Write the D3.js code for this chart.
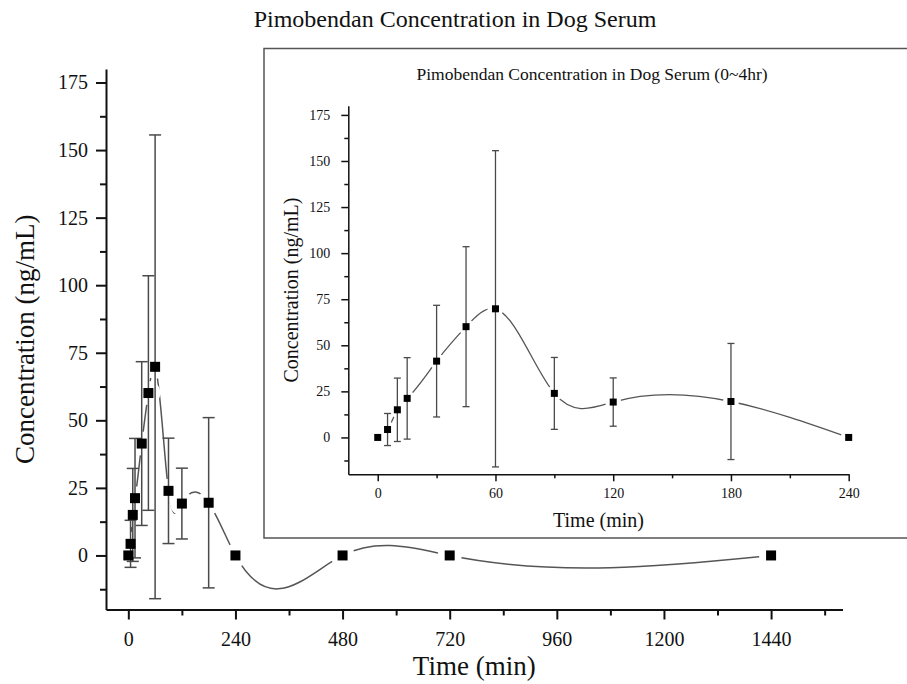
<!DOCTYPE html>
<html>
<head>
<meta charset="utf-8">
<script src="https://cdn.jsdelivr.net/npm/d3@7"></script>
<style>
  body { margin: 0; background: #fff; }
  text { font-family: 'Liberation Serif', 'Times New Roman', serif; fill: #111; }
</style>
</head>
<body>
<script>
const W = 907;
const H = 684;

// sampling times (min), mean concentration and SD (ng/mL)
const TIMES = [0, 5, 10, 15, 30, 45, 60, 90, 120, 180, 240, 480, 720, 1440];
const MEANS = [0, 4.3, 15.0, 21.2, 41.4, 60.1, 69.8, 23.9, 19.2, 19.5, 0, 0, 0, 0];
const SDS = [0, 8.7, 17.2, 22.1, 30.3, 43.4, 85.8, 19.5, 13.1, 31.5, 0, 0, 0, 0];

const MAIN_X_TICKS = [0, 240, 480, 720, 960, 1200, 1440];
const MAIN_X_MINOR = [120, 360, 600, 840, 1080, 1320, 1560];
const Y_TICKS = [0, 25, 50, 75, 100, 125, 150, 175];
const Y_MINOR = [-12.5, 12.5, 37.5, 62.5, 87.5, 112.5, 137.5, 162.5];
const INSET_X_TICKS = [0, 60, 120, 180, 240];
const INSET_X_MINOR = [30, 90, 150, 210];

const TITLE = 'Pimobendan Concentration in Dog Serum';
const INSET_TITLE = 'Pimobendan Concentration in Dog Serum (0~4hr)';

const points = TIMES.map((t, i) => ({ t: t, m: MEANS[i], sd: SDS[i] }));

// natural cubic spline y(x), drawn as exact bezier pieces
function NaturalX(context) { this._context = context; }
NaturalX.prototype = {
  areaStart() {}, areaEnd() {},
  lineStart() { this._x = []; this._y = []; },
  point(x, y) { this._x.push(+x); this._y.push(+y); },
  lineEnd() {
    const x = this._x, y = this._y, n = x.length;
    if (!n) return;
    this._context.moveTo(x[0], y[0]);
    if (n < 3) { if (n === 2) this._context.lineTo(x[1], y[1]); return; }
    const h = [];
    for (let i = 0; i < n - 1; i++) h.push(x[i + 1] - x[i]);
    // tridiagonal solve for second derivatives, M0 = Mn = 0
    const a = [], b = [], c = [], r = [];
    for (let i = 1; i < n - 1; i++) {
      a.push(h[i - 1]);
      b.push(2 * (h[i - 1] + h[i]));
      c.push(h[i]);
      r.push(6 * ((y[i + 1] - y[i]) / h[i] - (y[i] - y[i - 1]) / h[i - 1]));
    }
    const k = r.length;
    for (let i = 1; i < k; i++) {
      const w = a[i] / b[i - 1];
      b[i] -= w * c[i - 1];
      r[i] -= w * r[i - 1];
    }
    const inner = new Array(k);
    inner[k - 1] = r[k - 1] / b[k - 1];
    for (let i = k - 2; i >= 0; i--) inner[i] = (r[i] - c[i] * inner[i + 1]) / b[i];
    const M = [0, ...inner, 0];
    for (let i = 0; i < n - 1; i++) {
      const s = (y[i + 1] - y[i]) / h[i];
      const d0 = s - h[i] * (2 * M[i] + M[i + 1]) / 6;
      const d1 = s + h[i] * (M[i] + 2 * M[i + 1]) / 6;
      this._context.bezierCurveTo(
        x[i] + h[i] / 3, y[i] + d0 * h[i] / 3,
        x[i + 1] - h[i] / 3, y[i + 1] - d1 * h[i] / 3,
        x[i + 1], y[i + 1]);
    }
  }
};
const curveNaturalX = (context) => new NaturalX(context);

const svg = d3.select('body').append('svg')
  .attr('width', W)
  .attr('height', H);

const defs = svg.append('defs');

const drawPanel = (opt) => {
  const x = d3.scaleLinear().domain(opt.xDomain).range(opt.xRange);
  const y = d3.scaleLinear().domain([-20, 180]).range(opt.yRange);
  const data = points.filter((d) => d.t <= opt.xDomain[1]);
  const g = svg.append('g');

  // gaps in the curve around every symbol
  const mask = defs.append('mask')
    .attr('id', opt.id + '-gap')
    .attr('maskUnits', 'userSpaceOnUse')
    .attr('x', 0).attr('y', 0).attr('width', W).attr('height', H);
  mask.append('rect').attr('width', W).attr('height', H).attr('fill', '#fff');
  mask.selectAll('circle')
    .data(data)
    .join('circle')
    .attr('cx', (d) => x(d.t))
    .attr('cy', (d) => y(d.m))
    .attr('r', opt.gap)
    .attr('fill', '#000');

  g.append('path')
    .datum(data)
    .attr('d', d3.line().x((d) => x(d.t)).y((d) => y(d.m)).curve(curveNaturalX))
    .attr('fill', 'none')
    .attr('stroke', '#555')
    .attr('stroke-width', opt.lineW)
    .attr('mask', `url(#${opt.id}-gap)`);

  // error bars
  const bars = g.selectAll('g.err')
    .data(data.filter((d) => d.sd > 0))
    .join('g')
    .attr('class', 'err')
    .attr('stroke', '#4a4a4a')
    .attr('stroke-width', opt.lineW);
  bars.append('line')
    .attr('x1', (d) => x(d.t)).attr('x2', (d) => x(d.t))
    .attr('y1', (d) => y(d.m - d.sd)).attr('y2', (d) => y(d.m + d.sd));
  [-1, 1].forEach((sgn) => {
    bars.append('line')
      .attr('x1', (d) => x(d.t) - opt.cap).attr('x2', (d) => x(d.t) + opt.cap)
      .attr('y1', (d) => y(d.m + sgn * d.sd)).attr('y2', (d) => y(d.m + sgn * d.sd));
  });

  g.selectAll('rect.pt')
    .data(data)
    .join('rect')
    .attr('class', 'pt')
    .attr('x', (d) => x(d.t) - opt.sym / 2)
    .attr('y', (d) => y(d.m) - opt.sym / 2)
    .attr('width', opt.sym)
    .attr('height', opt.sym)
    .attr('fill', '#000');

  // axes
  const xAxis = g.append('g')
    .attr('transform', `translate(0,${opt.yRange[0]})`)
    .call(d3.axisBottom(x).tickValues(opt.xTicks).tickSize(opt.major)
      .tickSizeOuter(0).tickPadding(opt.xPad).tickFormat(d3.format('d')));
  g.append('g')
    .attr('transform', `translate(0,${opt.yRange[0]})`)
    .call(d3.axisBottom(x).tickValues(opt.xMinor).tickSize(opt.minor)
      .tickSizeOuter(0).tickFormat(''))
    .select('.domain').remove();
  const yAxis = g.append('g')
    .attr('transform', `translate(${opt.xRange[0]},0)`)
    .call(d3.axisLeft(y).tickValues(Y_TICKS).tickSize(opt.major)
      .tickSizeOuter(0).tickPadding(opt.yPad).tickFormat(d3.format('d')));
  g.append('g')
    .attr('transform', `translate(${opt.xRange[0]},0)`)
    .call(d3.axisLeft(y).tickValues(Y_MINOR).tickSize(opt.minor)
      .tickSizeOuter(0).tickFormat(''))
    .select('.domain').remove();

  g.selectAll('.domain, .tick line')
    .attr('stroke', '#111')
    .attr('stroke-width', opt.axisW);
  [xAxis, yAxis].forEach((a) => a.selectAll('text')
    .attr('font-family', "'Liberation Serif', serif")
    .attr('font-size', opt.tickFont)
    .attr('fill', '#111'));

  g.append('text')
    .attr('x', (opt.xRange[0] + opt.xRange[1]) / 2)
    .attr('y', opt.xLabelY)
    .attr('text-anchor', 'middle')
    .attr('font-size', opt.labelFont)
    .text('Time (min)');
  g.append('text')
    .attr('transform', `translate(${opt.yLabelX},${(opt.yRange[0] + opt.yRange[1]) / 2}) rotate(-90)`)
    .attr('text-anchor', 'middle')
    .attr('font-size', opt.labelFont)
    .text('Concentration (ng/mL)');
};

svg.append('text')
  .attr('x', 455)
  .attr('y', 27)
  .attr('text-anchor', 'middle')
  .attr('font-size', 24)
  .text(TITLE);

drawPanel({
  id: 'main',
  xDomain: [-50, 1600], xRange: [106, 842.5],
  yRange: [609.5, 69],
  xTicks: MAIN_X_TICKS, xMinor: MAIN_X_MINOR,
  major: 10, minor: 6, xPad: 12, yPad: 8,
  sym: 10, cap: 6, gap: 12, lineW: 1.5, axisW: 2,
  tickFont: 20, labelFont: 27, xLabelY: 675, yLabelX: 34
});

// inset frame
svg.append('rect')
  .attr('x', 264)
  .attr('y', 48.5)
  .attr('width', 660)
  .attr('height', 489.5)
  .attr('fill', '#fff')
  .attr('stroke', '#555')
  .attr('stroke-width', 1.5);

svg.append('text')
  .attr('x', 592)
  .attr('y', 80)
  .attr('text-anchor', 'middle')
  .attr('font-size', 17.5)
  .text(INSET_TITLE);

drawPanel({
  id: 'inset',
  xDomain: [-15, 240], xRange: [348.3, 848.7],
  yRange: [474.3, 105.7],
  xTicks: INSET_X_TICKS, xMinor: INSET_X_MINOR,
  major: 7, minor: 4, xPad: 7, yPad: 11,
  sym: 7, cap: 3.5, gap: 8, lineW: 1.3, axisW: 1.5,
  tickFont: 14, labelFont: 20, xLabelY: 527, yLabelX: 298
});
</script>
</body>
</html>
